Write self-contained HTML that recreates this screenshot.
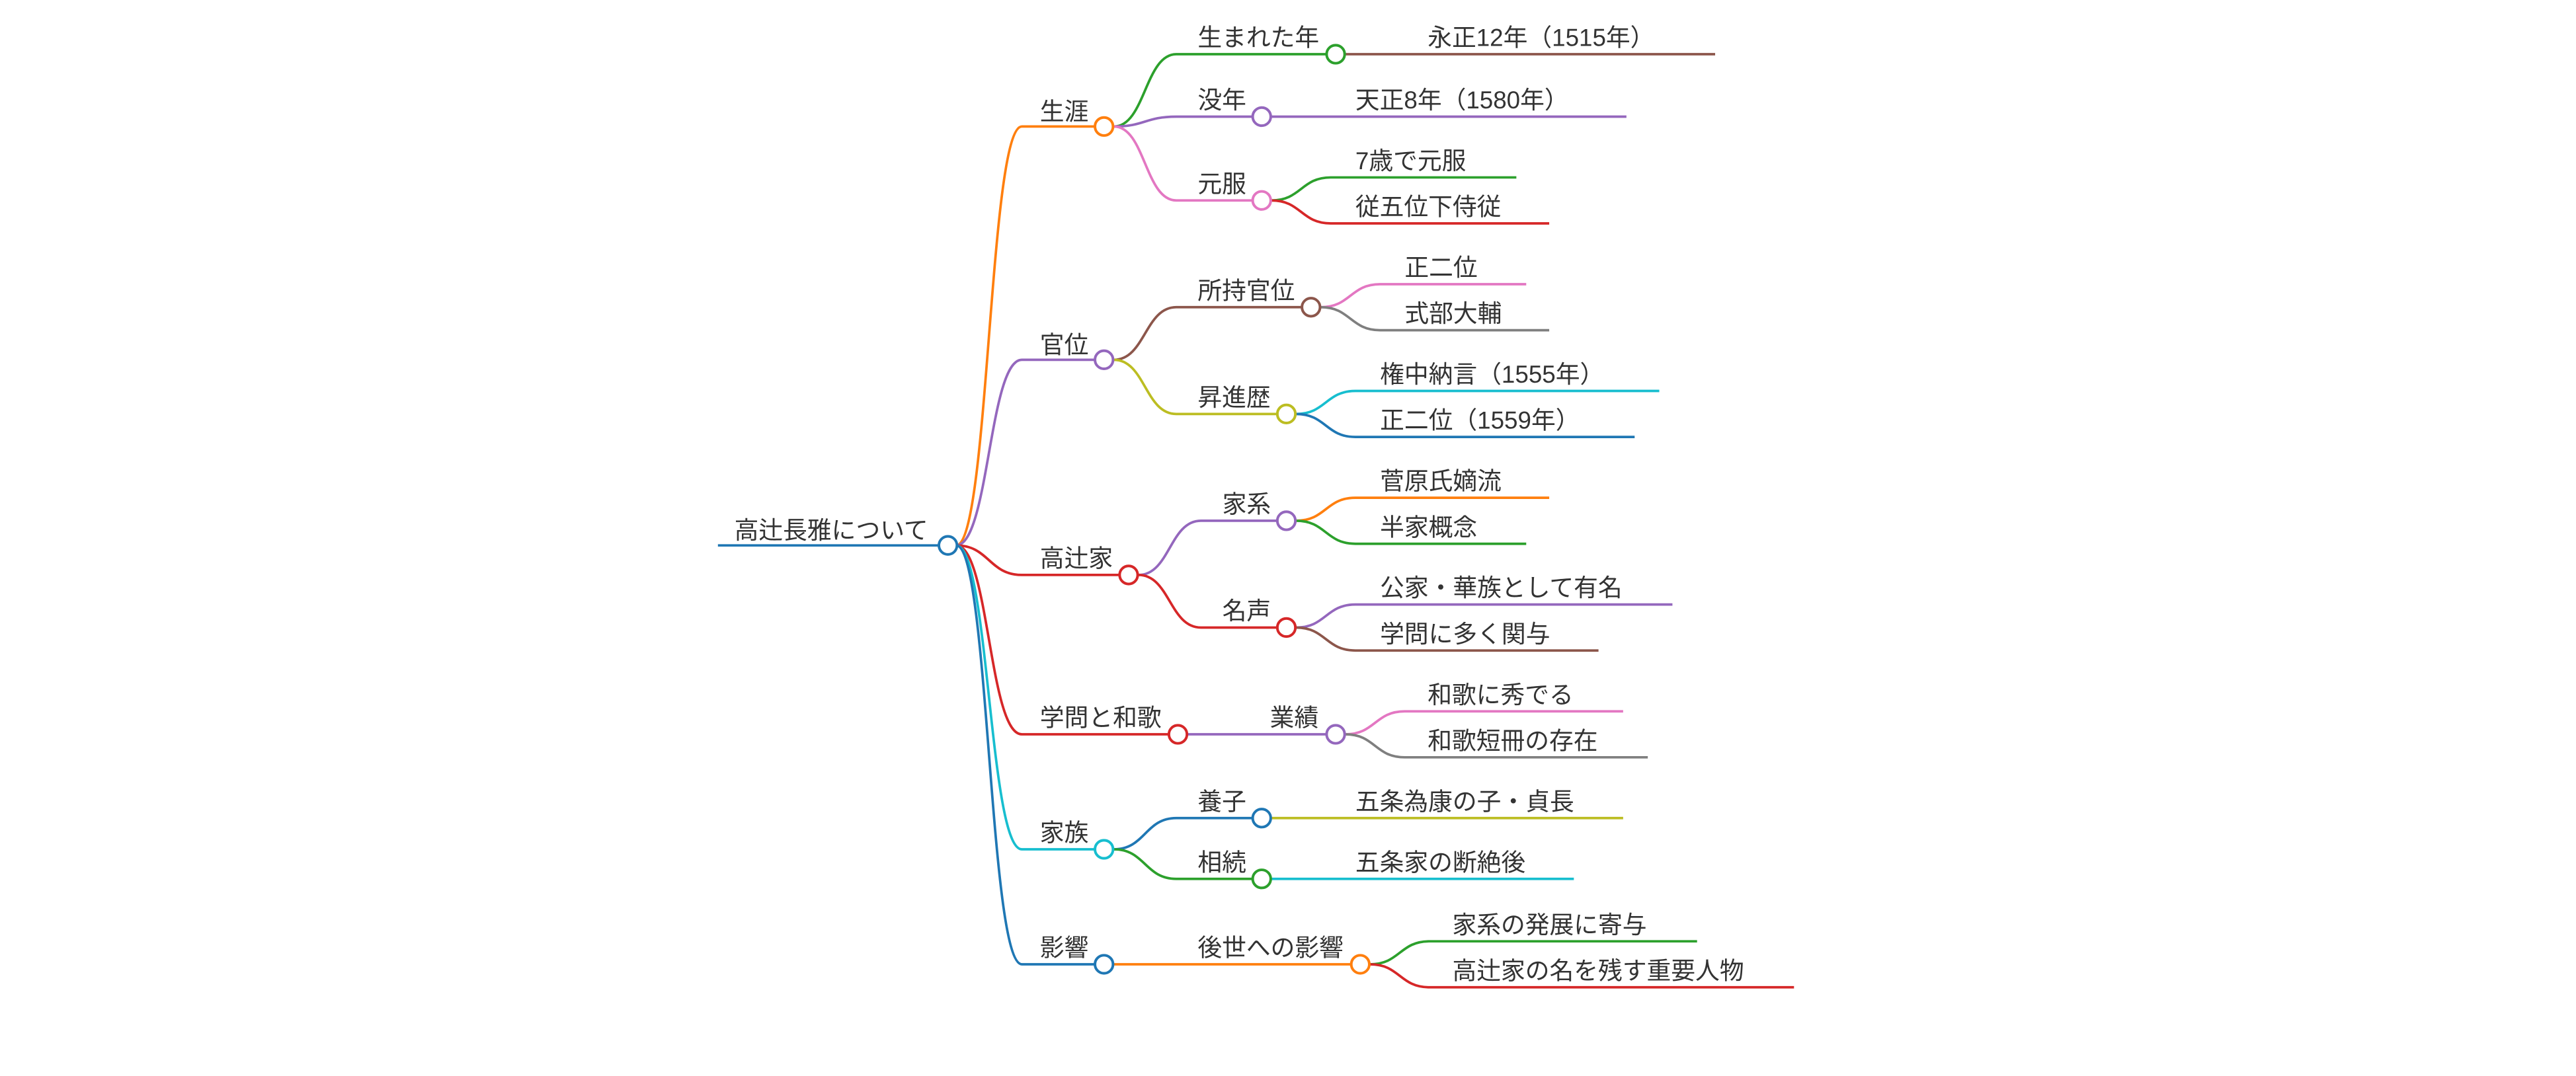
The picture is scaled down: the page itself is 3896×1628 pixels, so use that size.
<!DOCTYPE html>
<html><head><meta charset="utf-8"><style>
html,body{margin:0;padding:0;background:#fff;}
svg{display:block;}
text{font-family:"Liberation Sans","Noto Sans CJK JP",sans-serif;font-size:14.8px;fill:#333;}
path{fill:none;stroke-width:1.5;}
circle{fill:#fff;stroke-width:1.6;}
</style></head><body>
<svg width="3896" height="1628" viewBox="0 0 1568 655" preserveAspectRatio="none" xmlns="http://www.w3.org/2000/svg">
<path d="M437,332 L571,332" stroke="#1f77b4"/>
<text x="447" y="328">高辻長雅について</text>
<path d="M582,332 C602,332 602,77 622,77 L666,77" stroke="#ff7f0e"/>
<path d="M582,332 C602,332 602,219 622,219 L666,219" stroke="#9467bd"/>
<path d="M582,332 C602,332 602,350 622,350 L681,350" stroke="#d62728"/>
<path d="M582,332 C602,332 602,447 622,447 L711,447" stroke="#d62728"/>
<path d="M582,332 C602,332 602,517 622,517 L666,517" stroke="#17becf"/>
<path d="M582,332 C602,332 602,587 622,587 L666,587" stroke="#1f77b4"/>
<circle cx="577" cy="332" r="5.5" stroke="#1f77b4"/>

<text x="633" y="73">生涯</text>
<path d="M678,77 C697,77 697,33 716,33 L807,33" stroke="#2ca02c"/>
<path d="M678,77 C697,77 697,71 716,71 L762,71" stroke="#9467bd"/>
<path d="M678,77 C697,77 697,122 716,122 L762,122" stroke="#e377c2"/>
<circle cx="672" cy="77" r="5.5" stroke="#ff7f0e"/>
<text x="729" y="28">生まれた年</text>
<path d="M819,33 L1044,33" stroke="#8c564b"/>
<circle cx="813" cy="33" r="5.5" stroke="#2ca02c"/>
<text x="869" y="28">永正12年（1515年）</text>
<text x="729" y="66">没年</text>
<path d="M774,71 L990,71" stroke="#9467bd"/>
<circle cx="768" cy="71" r="5.5" stroke="#9467bd"/>
<text x="825" y="66">天正8年（1580年）</text>
<text x="729" y="117">元服</text>
<path d="M774,122 C792,122 792,108 810,108 L923,108" stroke="#2ca02c"/>
<path d="M774,122 C792,122 792,136 810,136 L943,136" stroke="#d62728"/>
<circle cx="768" cy="122" r="5.5" stroke="#e377c2"/>
<text x="825" y="103">7歳で元服</text>
<text x="825" y="131">従五位下侍従</text>

<text x="633" y="215">官位</text>
<path d="M678,219 C697,219 697,187 716,187 L792,187" stroke="#8c564b"/>
<path d="M678,219 C697,219 697,252 716,252 L777,252" stroke="#bcbd22"/>
<circle cx="672" cy="219" r="5.5" stroke="#9467bd"/>
<text x="729" y="182">所持官位</text>
<path d="M804,187 C822,187 822,173 840,173 L929,173" stroke="#e377c2"/>
<path d="M804,187 C822,187 822,201 840,201 L943,201" stroke="#7f7f7f"/>
<circle cx="798" cy="187" r="5.5" stroke="#8c564b"/>
<text x="855" y="168">正二位</text>
<text x="855" y="196">式部大輔</text>
<text x="729" y="247">昇進歴</text>
<path d="M789,252 C807,252 807,238 825,238 L1010,238" stroke="#17becf"/>
<path d="M789,252 C807,252 807,266 825,266 L995,266" stroke="#1f77b4"/>
<circle cx="783" cy="252" r="5.5" stroke="#bcbd22"/>
<text x="840" y="233">権中納言（1555年）</text>
<text x="840" y="261">正二位（1559年）</text>

<text x="633" y="345">高辻家</text>
<path d="M693,350 C712,350 712,317 731,317 L777,317" stroke="#9467bd"/>
<path d="M693,350 C712,350 712,382 731,382 L777,382" stroke="#d62728"/>
<circle cx="687" cy="350" r="5.5" stroke="#d62728"/>
<text x="744" y="312">家系</text>
<path d="M789,317 C807,317 807,303 825,303 L943,303" stroke="#ff7f0e"/>
<path d="M789,317 C807,317 807,331 825,331 L929,331" stroke="#2ca02c"/>
<circle cx="783" cy="317" r="5.5" stroke="#9467bd"/>
<text x="840" y="298">菅原氏嫡流</text>
<text x="840" y="326">半家概念</text>
<text x="744" y="377">名声</text>
<path d="M789,382 C807,382 807,368 825,368 L1018,368" stroke="#9467bd"/>
<path d="M789,382 C807,382 807,396 825,396 L973,396" stroke="#8c564b"/>
<circle cx="783" cy="382" r="5.5" stroke="#d62728"/>
<text x="840" y="363">公家・華族として有名</text>
<text x="840" y="391">学問に多く関与</text>

<text x="633" y="442">学問と和歌</text>
<path d="M723,447 L807,447" stroke="#9467bd"/>
<circle cx="717" cy="447" r="5.5" stroke="#d62728"/>
<text x="773" y="442">業績</text>
<path d="M819,447 C837,447 837,433 855,433 L988,433" stroke="#e377c2"/>
<path d="M819,447 C837,447 837,461 855,461 L1003,461" stroke="#7f7f7f"/>
<circle cx="813" cy="447" r="5.5" stroke="#9467bd"/>
<text x="869" y="428">和歌に秀でる</text>
<text x="869" y="456">和歌短冊の存在</text>

<text x="633" y="512">家族</text>
<path d="M678,517 C697,517 697,498 716,498 L762,498" stroke="#1f77b4"/>
<path d="M678,517 C697,517 697,535 716,535 L762,535" stroke="#2ca02c"/>
<circle cx="672" cy="517" r="5.5" stroke="#17becf"/>
<text x="729" y="493">養子</text>
<path d="M774,498 L988,498" stroke="#bcbd22"/>
<circle cx="768" cy="498" r="5.5" stroke="#1f77b4"/>
<text x="825" y="493">五条為康の子・貞長</text>
<text x="729" y="530">相続</text>
<path d="M774,535 L958,535" stroke="#17becf"/>
<circle cx="768" cy="535" r="5.5" stroke="#2ca02c"/>
<text x="825" y="530">五条家の断絶後</text>

<text x="633" y="582">影響</text>
<path d="M678,587 L822,587" stroke="#ff7f0e"/>
<circle cx="672" cy="587" r="5.5" stroke="#1f77b4"/>
<text x="729" y="582">後世への影響</text>
<path d="M834,587 C852,587 852,573 870,573 L1033,573" stroke="#2ca02c"/>
<path d="M834,587 C852,587 852,601 870,601 L1092,601" stroke="#d62728"/>
<circle cx="828" cy="587" r="5.5" stroke="#ff7f0e"/>
<text x="884" y="568">家系の発展に寄与</text>
<text x="884" y="596">高辻家の名を残す重要人物</text>
</svg>
</body></html>
